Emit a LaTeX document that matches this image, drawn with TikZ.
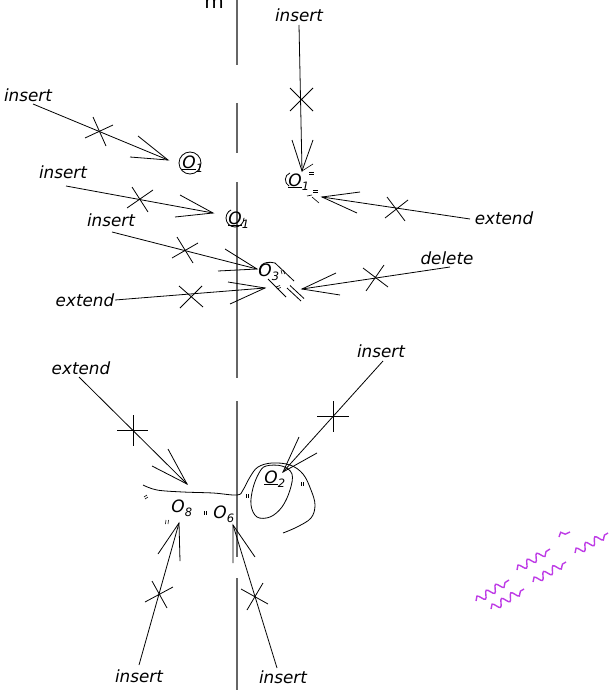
\documentclass[tikz,border=0pt]{standalone}
\usepackage{fontspec}
\setmainfont{DejaVu Sans}
\usetikzlibrary{decorations.pathmorphing}
\definecolor{wavec}{RGB}{190,60,230}
\newcommand{\Olab}[2]{#1\raisebox{-0.5ex}{\fontsize{11.5}{12}\selectfont #2}}
\begin{document}
\begin{tikzpicture}[x=1pt,y=-1pt,line width=0.8pt,
  lbl/.style={font=\fontsize{16.8}{19}\selectfont\itshape, inner sep=0pt},
  olab/.style={font=\fontsize{17}{19}\selectfont\itshape, inner sep=0pt, anchor=base west},
  axisline/.style={draw=black!60, line width=1.3pt},
  mk/.style={line width=0.6pt},
  wave/.style={draw=wavec, line width=1.4pt, decorate, decoration={snake, segment length=11pt, amplitude=3.6pt}}]
\useasboundingbox (0,0) rectangle (610,690);

% dashed vertical axis
\draw[axisline] (237,-2) -- (237,65);
\draw[axisline] (237,103) -- (237,153);
\draw[axisline] (237,182) -- (237,378);
\draw[axisline] (237,401) -- (237,557);
\draw[axisline] (237,578) -- (237,692);
\node[font=\fontsize{20}{22}\selectfont, inner sep=0pt, anchor=base] (top) at (214,9) {m};

% labels
\node[lbl] (L1) at (299,15) {insert};
\node[lbl] (L2) at (504,218) {extend};
\node[lbl] (L3) at (28,95) {insert};
\node[lbl] (L4) at (63,172) {insert};
\node[lbl] (L5) at (111,220) {insert};
\node[lbl] (L6) at (85,300) {extend};
\node[lbl] (L7) at (447,258) {delete};
\node[lbl] (L8) at (81,368) {extend};
\node[lbl] (L9) at (381,351) {insert};
\node[lbl] (L10) at (139,676) {insert};
\node[lbl] (L11) at (283,677) {insert};

% object labels
\node[olab] (O1a) at (182,168) {\Olab{\underline{O}}{1}};
\node[olab] (O1b) at (228,224) {\Olab{\underline{O}}{1}};
\node[olab] (O1c) at (288,186) {\Olab{\underline{O}}{1}};
\node[olab] (O3) at (258,276) {\Olab{O}{3}};
\node[olab] (O2) at (264,483) {\Olab{\underline{O}}{2}};
\node[olab] (O8) at (171,512) {\Olab{O}{8}};
\node[olab] (O6) at (213,518) {\Olab{O}{6}};

\draw (190,163) circle[radius=11];
\draw[dash pattern=on 38pt off 18pt] (235,218) circle[radius=9];
\draw (290,173) .. controls (284,175) and (284,183) .. (289,186);

% arrow 1
\coordinate (s1) at (299,25); \coordinate (t1) at (302,171);
\draw (s1) -- (t1);
\draw (292,140) -- (t1) -- (313,140);
\draw (290,88) -- (313,111) (290,111) -- (313,88);
% arrow 2
\coordinate (s2) at (470,219); \coordinate (t2) at (322,197);
\draw (s2) -- (t2);
\draw (360,192) -- (t2) -- (357,213);
\draw (385,218) -- (408,200) (387,197) -- (405,221);
% arrow 3
\coordinate (s3) at (33,104); \coordinate (t3) at (168,160);
\draw (s3) -- (t3);
\draw (138,136) -- (t3) -- (130,157);
\draw (85,138) -- (113,125) (93,117) -- (106,146);
% arrow 4
\coordinate (s4) at (66,186); \coordinate (t4) at (213,213);
\draw (s4) -- (t4);
\draw (180,195) -- (t4) -- (175,217);
\draw (127,208) -- (153,190) (132,187) -- (148,212);
% arrow 5
\coordinate (s5) at (112,232); \coordinate (t5) at (257,269);
\draw (s5) -- (t5);
\draw (225,249) -- (t5) -- (218,271);
\draw (172,258) -- (198,243) (177,237) -- (193,263);
% arrow 6
\coordinate (s6) at (115,300); \coordinate (t6) at (265,288);
\draw (s6) -- (t6);
\draw (228,282) -- (t6) -- (230,304);
\draw (180,308) -- (202,286) (179,286) -- (203,307);
% arrow 7
\coordinate (s7) at (450,267); \coordinate (t7) at (302,289);
\draw (s7) -- (t7);
\draw (336,273) -- (t7) -- (340,295);
\draw (363,268) -- (388,287) (366,291) -- (384,265);
% arrow 8
\coordinate (s8) at (79,377); \coordinate (t8) at (187,484);
\draw (s8) -- (t8);
\draw (168,449) -- (t8) -- (152,466);
\draw (117,430) -- (148,430) (133,415) -- (133,446);
% arrow 9
\coordinate (s9) at (383,361); \coordinate (t9) at (283,472);
\draw (s9) -- (t9);
\draw (299,437) -- (t9) -- (317,453);
\draw (317,416) -- (349,416) (333,401) -- (333,432);
% arrow 10
\coordinate (s10) at (139,665); \coordinate (t10) at (179,523);
\draw (s10) -- (t10);
\draw (158,554) -- (t10) -- (180,561);
\draw (145,602) -- (173,587) (152,581) -- (167,608);
% arrow 11
\coordinate (s11) at (277,668); \coordinate (t11) at (233,525);
\draw (s11) -- (t11);
\draw (233,563) -- (t11) -- (255,557);
\draw (241,589) -- (268,604) (247,610) -- (263,583);

% small marks near top-right O1
\draw[mk] (302,171) -- (313,164);
\draw[mk] (309,172) -- (314,172) (309,174.5) -- (314,174.5);
\draw[mk] (313,190) -- (318,190) (313,192.5) -- (318,192.5);
\draw[mk] (307,196) -- (312,195) (312,197) -- (319,203);

% O3 outline and marks
\draw (275,263) -- (294,281);
\draw (261,273) .. controls (257,267) and (263,260) .. (275,263);
\draw (268,279) -- (286,297);
\draw[mk] (281,270) -- (282,274) (283.5,270) -- (284.5,274);
\draw[mk] (276,287) -- (280,285.5) (276.8,289) -- (280.8,287.5);
\draw (287,288) -- (301,301) (290,285.5) -- (304,298.5);

% lower curve
\draw plot[smooth, tension=0.6] coordinates {(143,485) (157,490) (183,492) (213,493) (237,495) (243,490) (250,477) (258,467) (272,463) (290,465) (303,474) (311,490) (315,505) (311,518) (297,527) (283,533)};
\draw plot[smooth cycle, tension=0.6] coordinates {(266,466) (282,466) (292,474) (290,490) (282,507) (270,517) (257,517) (251,505) (253,488) (259,473)};

% small quote marks lower
\draw[mk] (301,482) -- (301,486) (303.5,482) -- (303.5,486);
\draw[mk] (246,494) -- (246,498) (248.5,494) -- (248.5,498);
\draw[mk] (144,497) -- (147,495) (145,499) -- (148,497);
\draw[mk] (166,520) -- (165.5,524) (168.5,520) -- (168,524);
\draw[mk] (204,511) -- (204,515) (206.5,511) -- (206.5,515);

% wavy lines
\draw[wave] (476,601) -- (509,580);
\draw[wave] (491,609) -- (524,589);
\draw[wave] (517,570) -- (550,549);
\draw[wave] (533,582) -- (566,562);
\draw[wave] (559,537) -- (570,532);
\draw[wave] (575,553) -- (608,533);
\end{tikzpicture}
\end{document}
